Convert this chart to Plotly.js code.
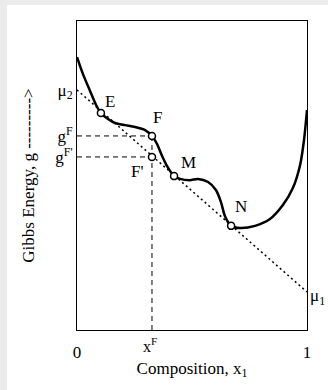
<!DOCTYPE html>
<html>
<head>
<meta charset="utf-8">
<script src="https://cdn.plot.ly/plotly-3.0.1.min.js"></script>
<style>
  html, body { margin: 0; padding: 0; background: #ebebeb; width: 328px; height: 390px; overflow: hidden; }
  #chart { position: absolute; left: 7px; top: 5px; width: 321px; height: 385px; background: #ffffff; }
</style>
</head>
<body>
<div id="chart"></div>
<script>
// Gibbs energy curve g(x1)
const curveX = [0, 0.026, 0.057, 0.083, 0.104, 0.135, 0.165, 0.209, 0.252, 0.296, 0.326, 0.348, 0.370, 0.391, 0.422, 0.448, 0.491, 0.526, 0.570, 0.604, 0.626, 0.643, 0.670, 0.709, 0.774, 0.839, 0.896, 0.939, 0.970, 0.987, 1.0];
const curveG = [0.883, 0.828, 0.773, 0.728, 0.702, 0.683, 0.670, 0.663, 0.657, 0.647, 0.628, 0.602, 0.563, 0.531, 0.498, 0.489, 0.485, 0.489, 0.479, 0.453, 0.414, 0.369, 0.337, 0.330, 0.337, 0.359, 0.405, 0.460, 0.534, 0.615, 0.712];

// Marked points
const pointNames = ['E', 'F', "F'", 'M', 'N'];
const pointX = [0.104, 0.326, 0.326, 0.422, 0.670];
const pointG = [0.702, 0.628, 0.560, 0.498, 0.337];

// Common tangent (chemical potentials at x1 = 0 and x1 = 1)
const mu2 = 0.777;
const mu1 = 0.123;

// Reference composition and energies
const xF = 0.326;
const gF = 0.628;
const gFp = 0.560;

// Tick labels
const xTickVals = [0, 1];
const xTickText = ['0', '1'];
const yTickVals = [mu2, gF, gFp];
const yTickText = ['\u03bc<sub>2</sub>', 'g<sup>F</sup>', "g<sup>F'</sup>"];

const serif = '"Liberation Serif", "Times New Roman", serif';

const traces = [
  { // tangent line
    x: [0, 1], y: [mu2, mu1], mode: 'lines', type: 'scatter',
    line: { color: '#000', width: 1.5, dash: '2px,3px' }, hoverinfo: 'skip'
  },
  { // horizontal dashed at gF
    x: [0, xF], y: [gF, gF], mode: 'lines', type: 'scatter',
    line: { color: '#000', width: 1, dash: '5px,4px' }, hoverinfo: 'skip'
  },
  { // horizontal dashed at gF'
    x: [0, xF], y: [gFp, gFp], mode: 'lines', type: 'scatter',
    line: { color: '#000', width: 1, dash: '5px,4px' }, hoverinfo: 'skip'
  },
  { // vertical dashed at xF
    x: [xF, xF], y: [0, gF], mode: 'lines', type: 'scatter',
    line: { color: '#000', width: 1, dash: '5px,4px' }, hoverinfo: 'skip'
  },
  { // Gibbs curve
    x: curveX, y: curveG, mode: 'lines', type: 'scatter',
    line: { color: '#000', width: 2.5, shape: 'spline', smoothing: 0.7 }
  },
  { // points
    x: pointX, y: pointG, mode: 'markers', type: 'scatter',
    marker: { symbol: 'circle', size: 7, color: '#fff', line: { color: '#000', width: 1.5 } },
    text: pointNames
  }
];

// label offsets (px) for each point
const labelDX = [9, 6, -14, 14, 10];
const labelDY = [12, 18, -15, 14, 19];

const annotations = pointNames.map((n, i) => ({
  x: pointX[i], y: pointG[i], xref: 'x', yref: 'y', text: n, showarrow: false,
  xshift: labelDX[i], yshift: labelDY[i],
  font: { family: serif, size: 17, color: '#000' }
}));
annotations.push({
  x: 1, y: mu1, xref: 'x', yref: 'y', text: '\u03bc<sub>1</sub>', showarrow: false,
  xanchor: 'left', yanchor: 'middle', xshift: 1, yshift: -5,
  font: { family: serif, size: 17, color: '#000' }
});
annotations.push({
  x: xF, y: -0.05, xref: 'x', yref: 'paper', text: 'x<sup>F</sup>', showarrow: false,
  xanchor: 'center', yanchor: 'middle', xshift: -2,
  font: { family: serif, size: 16, color: '#000' }
});

const layout = {
  width: 321, height: 385,
  margin: { l: 70, r: 21, t: 16, b: 60 },
  paper_bgcolor: '#ffffff', plot_bgcolor: '#ffffff',
  showlegend: false,
  xaxis: {
    range: [0, 1], showgrid: false, zeroline: false,
    showline: true, mirror: true, linecolor: '#000', linewidth: 1,
    tickvals: xTickVals, ticktext: xTickText,
    ticks: 'outside', ticklen: 7, tickcolor: 'rgba(0,0,0,0)',
    tickfont: { family: serif, size: 17, color: '#000' },
    title: { text: 'Composition, x<sub>1</sub>', font: { family: serif, size: 17, color: '#000' }, standoff: 0 }
  },
  yaxis: {
    range: [0, 1], showgrid: false, zeroline: false,
    showline: true, mirror: true, linecolor: '#000', linewidth: 1,
    tickvals: yTickVals, ticktext: yTickText,
    ticks: '', tickfont: { family: serif, size: 17, color: '#000' },
    title: { text: 'Gibbs Energy, g --------->', font: { family: serif, size: 17, color: '#000' }, standoff: 16 }
  },
  annotations: annotations
};

Plotly.newPlot('chart', traces, layout, { displayModeBar: false, staticPlot: true });
</script>
</body>
</html>
